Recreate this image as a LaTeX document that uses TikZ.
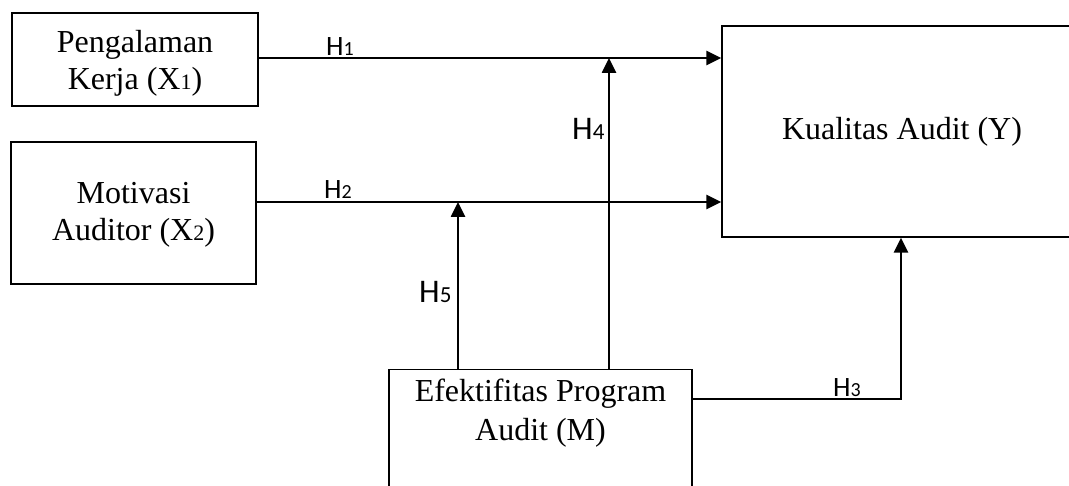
\documentclass[tikz,border=0pt]{standalone}
\usepackage{fontspec}
\setmainfont{Liberation Serif}
\newfontfamily\hfont{Carlito}
\usetikzlibrary{arrows.meta}
\begin{document}
\begin{tikzpicture}[x=1pt,y=-1pt,
  box/.style={draw=black,line width=1.3pt,rectangle,inner sep=0pt},
  boxtext/.style={inner sep=0pt,align=center,font=\fontsize{32}{37}\selectfont},
  arr/.style={line width=2.6pt,-{Triangle[length=15pt,width=14pt]}},
  hlab/.style={anchor=base west,inner sep=0pt,font=\hfont\fontsize{28}{28}\selectfont},
  vlab/.style={anchor=base west,inner sep=0pt,font=\hfont\fontsize{33}{33}\selectfont},
]
\clip (0,0) rectangle (1069,486);
\fill[white] (0,0) rectangle (1069,486);
% boxes
\node[box,minimum width=246pt,minimum height=93pt] (x1) at (135,59.5) {};
\node[boxtext] (x1t) at ([yshift=-3.5pt]x1.center)
  {Pengalaman\\Kerja (X{\fontsize{22}{22}\selectfont 1})};
\node[box,minimum width=245pt,minimum height=142pt] (x2) at (133.5,213) {};
\node[boxtext] (x2t) at ([yshift=-1.5pt]x2.center)
  {Motivasi\\Auditor (X{\fontsize{22}{22}\selectfont 2})};
\node[box,minimum width=358pt,minimum height=211pt] (y) at (901,131.5) {};
\node[boxtext] (yt) at ([xshift=1pt]y.center) {Kualitas Audit (Y)};
\node[box,minimum width=303pt,minimum height=160pt,anchor=north] (m) at (540.5,369) {};
\node[boxtext,anchor=north,font=\fontsize{32}{39}\selectfont] (mt)
  at ([yshift=-10pt]m.north) {Efektifitas Program\\Audit (M)};
% junctions
\coordinate (j1) at (609,58);
\coordinate (j2) at (458,202);
% connectors
\draw[arr] (x1.east |- j1) -- (y.west |- j1);
\draw[arr] (x2.east |- j2) -- (y.west |- j2);
\draw[arr] (m.north -| j1) -- (j1);
\draw[arr] (m.north -| j2) -- (j2);
\draw[arr] (m.east |- 0,399) -| (y.south);
% labels
\node[hlab] (h1) at (326,56) {H{\fontsize{20}{20}\selectfont 1}};
\node[hlab] (h2) at (324,199) {H{\fontsize{20}{20}\selectfont 2}};
\node[hlab] (h3) at (833,397) {H{\fontsize{20}{20}\selectfont 3}};
\node[vlab] (h4) at (572,140) {H{\fontsize{23}{23}\selectfont 4}};
\node[vlab] (h5) at (419,303) {H{\fontsize{23}{23}\selectfont 5}};
\end{tikzpicture}
\end{document}
